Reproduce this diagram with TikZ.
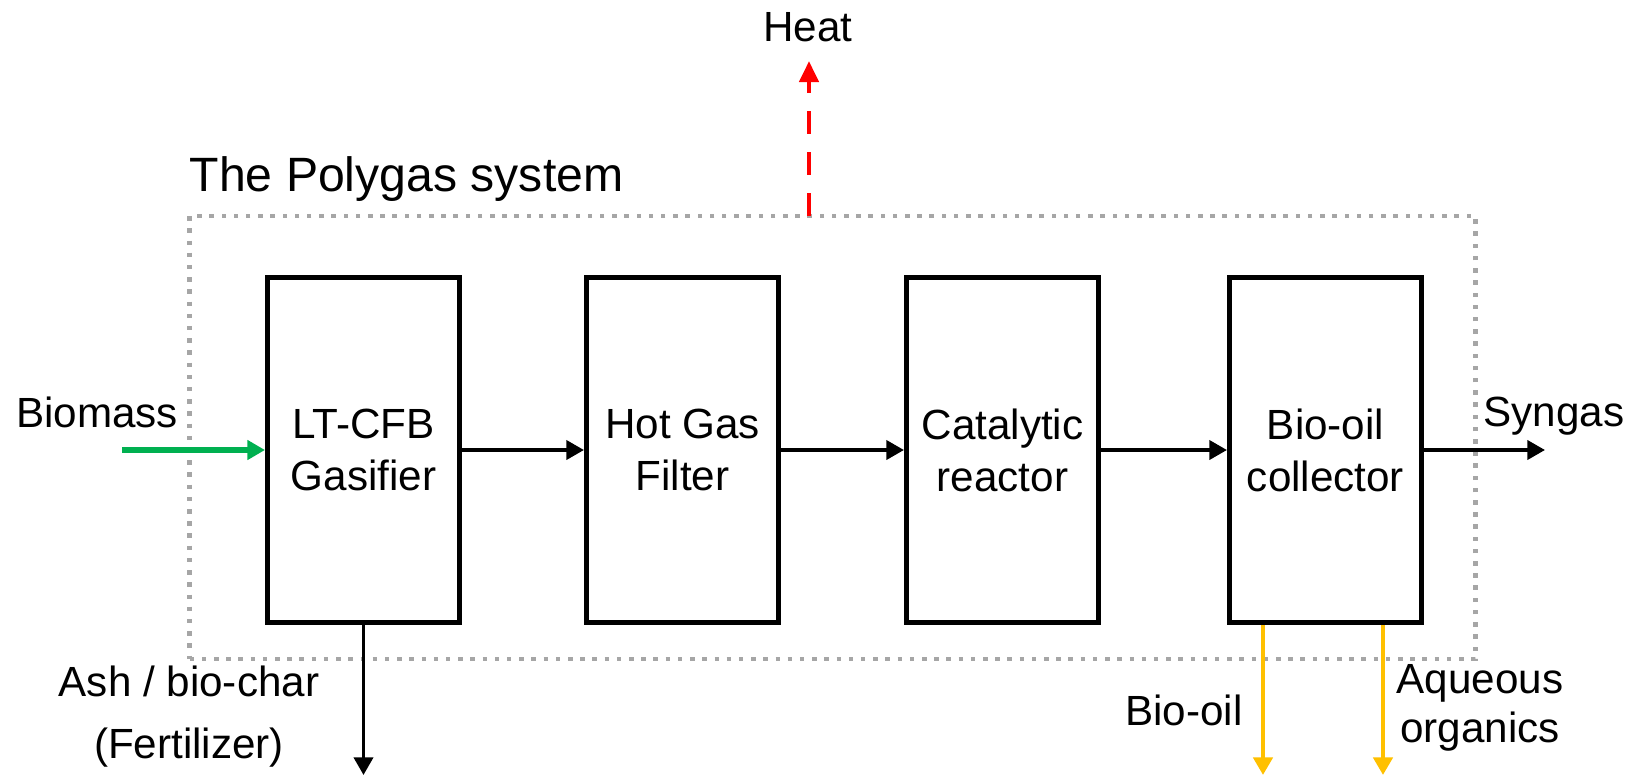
\documentclass[tikz,border=0pt]{standalone}
\usepackage{fontspec}
\setmainfont{Liberation Sans}
\usetikzlibrary{arrows.meta}
\definecolor{biogreen}{HTML}{00B050}
\definecolor{oilyellow}{HTML}{FFC000}
\definecolor{sysgray}{HTML}{A6A6A6}
\begin{document}
\begin{tikzpicture}[x=0.01cm, y=-0.01cm,
		unit/.style = {draw, line width=1.4pt, minimum width=1.92cm, minimum height=3.45cm, align=center, font=\fontsize{12}{14.8}\selectfont, inner sep=0pt},
		sysbox/.style = {draw=sysgray, line width=1.3pt, dash pattern=on 0.045cm off 0.077cm, minimum width=12.85cm, minimum height=4.43cm, inner sep=0pt},
		flow/.style = {line width=1.05pt, -{Triangle[length=5pt, width=5.4pt]}},
		lbl/.style = {align=center, font=\fontsize{12}{14}\selectfont, inner sep=0pt}]
		\useasboundingbox (0,0) rectangle (1629,775);
		% system border
		\node[sysbox] (sys) at (832.5,437.5) {};
		\node[anchor=west, font=\fontsize{13.7}{16}\selectfont, inner sep=0pt] (title) at (189,179) {The Polygas system};
		% units
		\node[unit] (gasifier) at (363.5,450) {LT-CFB\\Gasifier};
		\node[unit] (filter) at (682.5,450) {Hot Gas\\Filter};
		\node[unit] (reactor) at (1002.5,450) {Catalytic\\reactor};
		\node[unit] (collector) at (1325.5,450) {Bio-oil\\collector};
		% streams
		\coordinate (biomassin) at (122,450);
		\coordinate (syngasout) at (1545,450);
		\coordinate (heatfrom) at (809,216);
		\coordinate (heatto) at (809,61);
		\coordinate (ashout) at (363.5,775);
		\coordinate (oilout) at (1263,775);
		\coordinate (aqout) at (1383,775);
		\draw[flow] (gasifier) -- (filter);
		\draw[flow] (filter) -- (reactor);
		\draw[flow] (reactor) -- (collector);
		\draw[flow] (collector) -- (syngasout);
		\draw[flow, draw=biogreen, fill=biogreen, line width=1.45pt] (biomassin) -- (gasifier);
		\draw[flow] (gasifier) -- (ashout);
		\draw[flow, draw=oilyellow, fill=oilyellow, line width=1.3pt] (collector.south -| oilout) -- (oilout);
		\draw[flow, draw=oilyellow, fill=oilyellow, line width=1.3pt] (collector.south -| aqout) -- (aqout);
		\draw[flow, draw=red, line width=1.35pt, dash pattern=on 0.23cm off 0.18cm, -{Triangle[length=6pt, width=5.4pt]}] (heatfrom) -- (heatto);
		% labels
		\node[lbl] (heat) at (808,27) {Heat};
		\node[lbl] (biomass) at (97,412) {Biomass};
		\node[lbl] (syngas) at (1554,416) {Syngas};
		\node[lbl, font=\fontsize{12}{17.6}\selectfont] (ash) at (189,717) {Ash / bio-char\\(Fertilizer)};
		\node[lbl] (biooil) at (1184,710) {Bio-oil};
		\node[lbl] (aqueous) at (1480,707.5) {Aqueous\\organics};
	\end{tikzpicture}
\end{document}
